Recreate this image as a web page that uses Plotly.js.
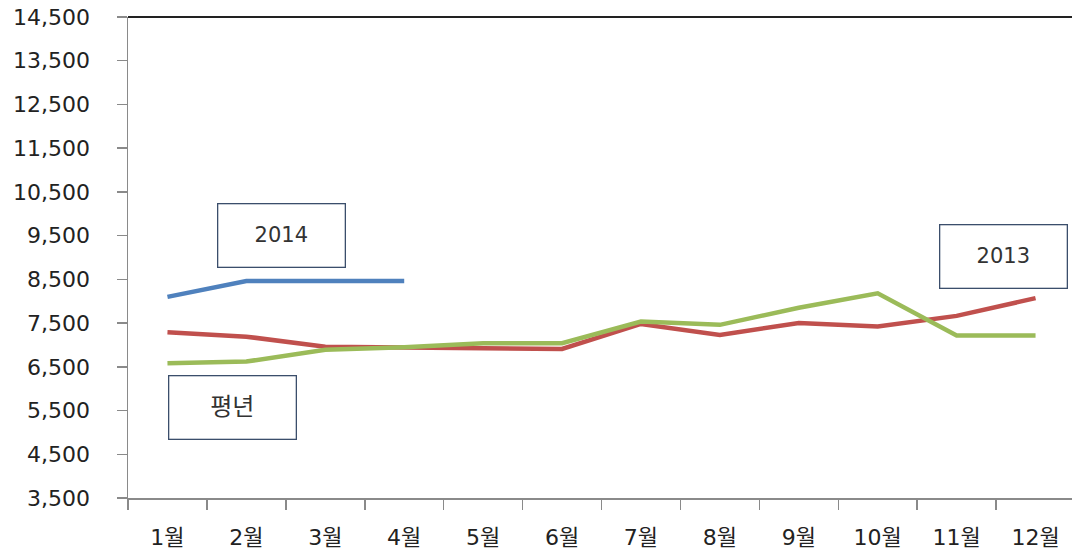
<!DOCTYPE html>
<html>
<head>
<meta charset="utf-8">
<script src="https://cdn.plot.ly/plotly-3.0.1.min.js"></script>
<style>
  html, body { margin: 0; padding: 0; background: #fff; }
  #chart { width: 1072px; height: 557px; }
</style>
</head>
<body>
<div id="chart"></div>
<script>
// ---- data ----
const months = ['1월','2월','3월','4월','5월','6월','7월','8월','9월','10월','11월','12월'];
const series2014 = [8100, 8460, 8460, 8460];
const series2013 = [7290, 7190, 6960, 6950, 6925, 6910, 7480, 7230, 7500, 7420, 7665, 8070];
const seriesNormal = [6580, 6620, 6890, 6950, 7040, 7040, 7535, 7460, 7850, 8180, 7215, 7215];
const yTickValues = [3500, 4500, 5500, 6500, 7500, 8500, 9500, 10500, 11500, 12500, 13500, 14500];
const labelNames = ['2014', '2013', '평년'];

const FONT = 'DejaVu Sans, "Noto Sans CJK KR", sans-serif';

const traces = [
  { x: months.slice(0, series2014.length), y: series2014, type: 'scatter', mode: 'lines',
    line: { color: '#4F81BD', width: 4.5 }, name: labelNames[0] },
  { x: months, y: series2013, type: 'scatter', mode: 'lines',
    line: { color: '#C0504D', width: 4.5 }, name: labelNames[1] },
  { x: months, y: seriesNormal, type: 'scatter', mode: 'lines',
    line: { color: '#9BBB59', width: 4.5 }, name: labelNames[2] }
];

function box(text, xc, yc, size) {
  return {
    xref: 'x', yref: 'y', x: xc, y: yc, text: text, showarrow: false,
    xanchor: 'center', yanchor: 'middle',
    width: 126, height: 62, borderpad: 0,
    bordercolor: '#3B4E6B', borderwidth: 1.3, bgcolor: 'rgba(255,255,255,0)',
    font: { family: FONT, size: size, color: '#333' }, align: 'center'
  };
}

const layout = {
  width: 1072, height: 557,
  margin: { l: 128, r: 0, t: 17, b: 59 },
  paper_bgcolor: '#fff', plot_bgcolor: '#fff',
  showlegend: false,
  xaxis: {
    type: 'category', categoryorder: 'array', categoryarray: months,
    range: [-0.5, 11.462],
    showgrid: false, zeroline: false,
    showline: true, linecolor: '#8A8A8A', linewidth: 1.5,
    ticks: 'outside', ticklen: 10, tickcolor: '#8A8A8A', tickwidth: 1.5,
    tickson: 'boundaries',
    ticklabelstandoff: 19,
    tickfont: { family: FONT, size: 22, color: '#222' }
  },
  yaxis: {
    range: [3500, 14500],
    tickmode: 'array', tickvals: yTickValues,
    ticktext: yTickValues.map(v => v.toLocaleString('en-US')),
    showgrid: false, zeroline: false,
    showline: true, linecolor: '#8A8A8A', linewidth: 1.5,
    ticks: 'outside', ticklen: 10, tickcolor: '#8A8A8A', tickwidth: 1.5,
    ticklabelstandoff: 22,
    tickfont: { family: FONT, size: 22, color: '#222' }
  },
  shapes: [
    { type: 'line', xref: 'paper', yref: 'paper', x0: 0, x1: 1, y0: 1, y1: 1,
      line: { color: '#222', width: 2 }, layer: 'above' }
  ],
  annotations: [
    box(labelNames[0], 1.44, 9500, 21),
    box(labelNames[1], 10.6, 9020, 21),
    box(labelNames[2], 0.83, 5580, 24)
  ]
};

Plotly.newPlot('chart', traces, layout, { displayModeBar: false, staticPlot: true });
</script>
</body>
</html>
